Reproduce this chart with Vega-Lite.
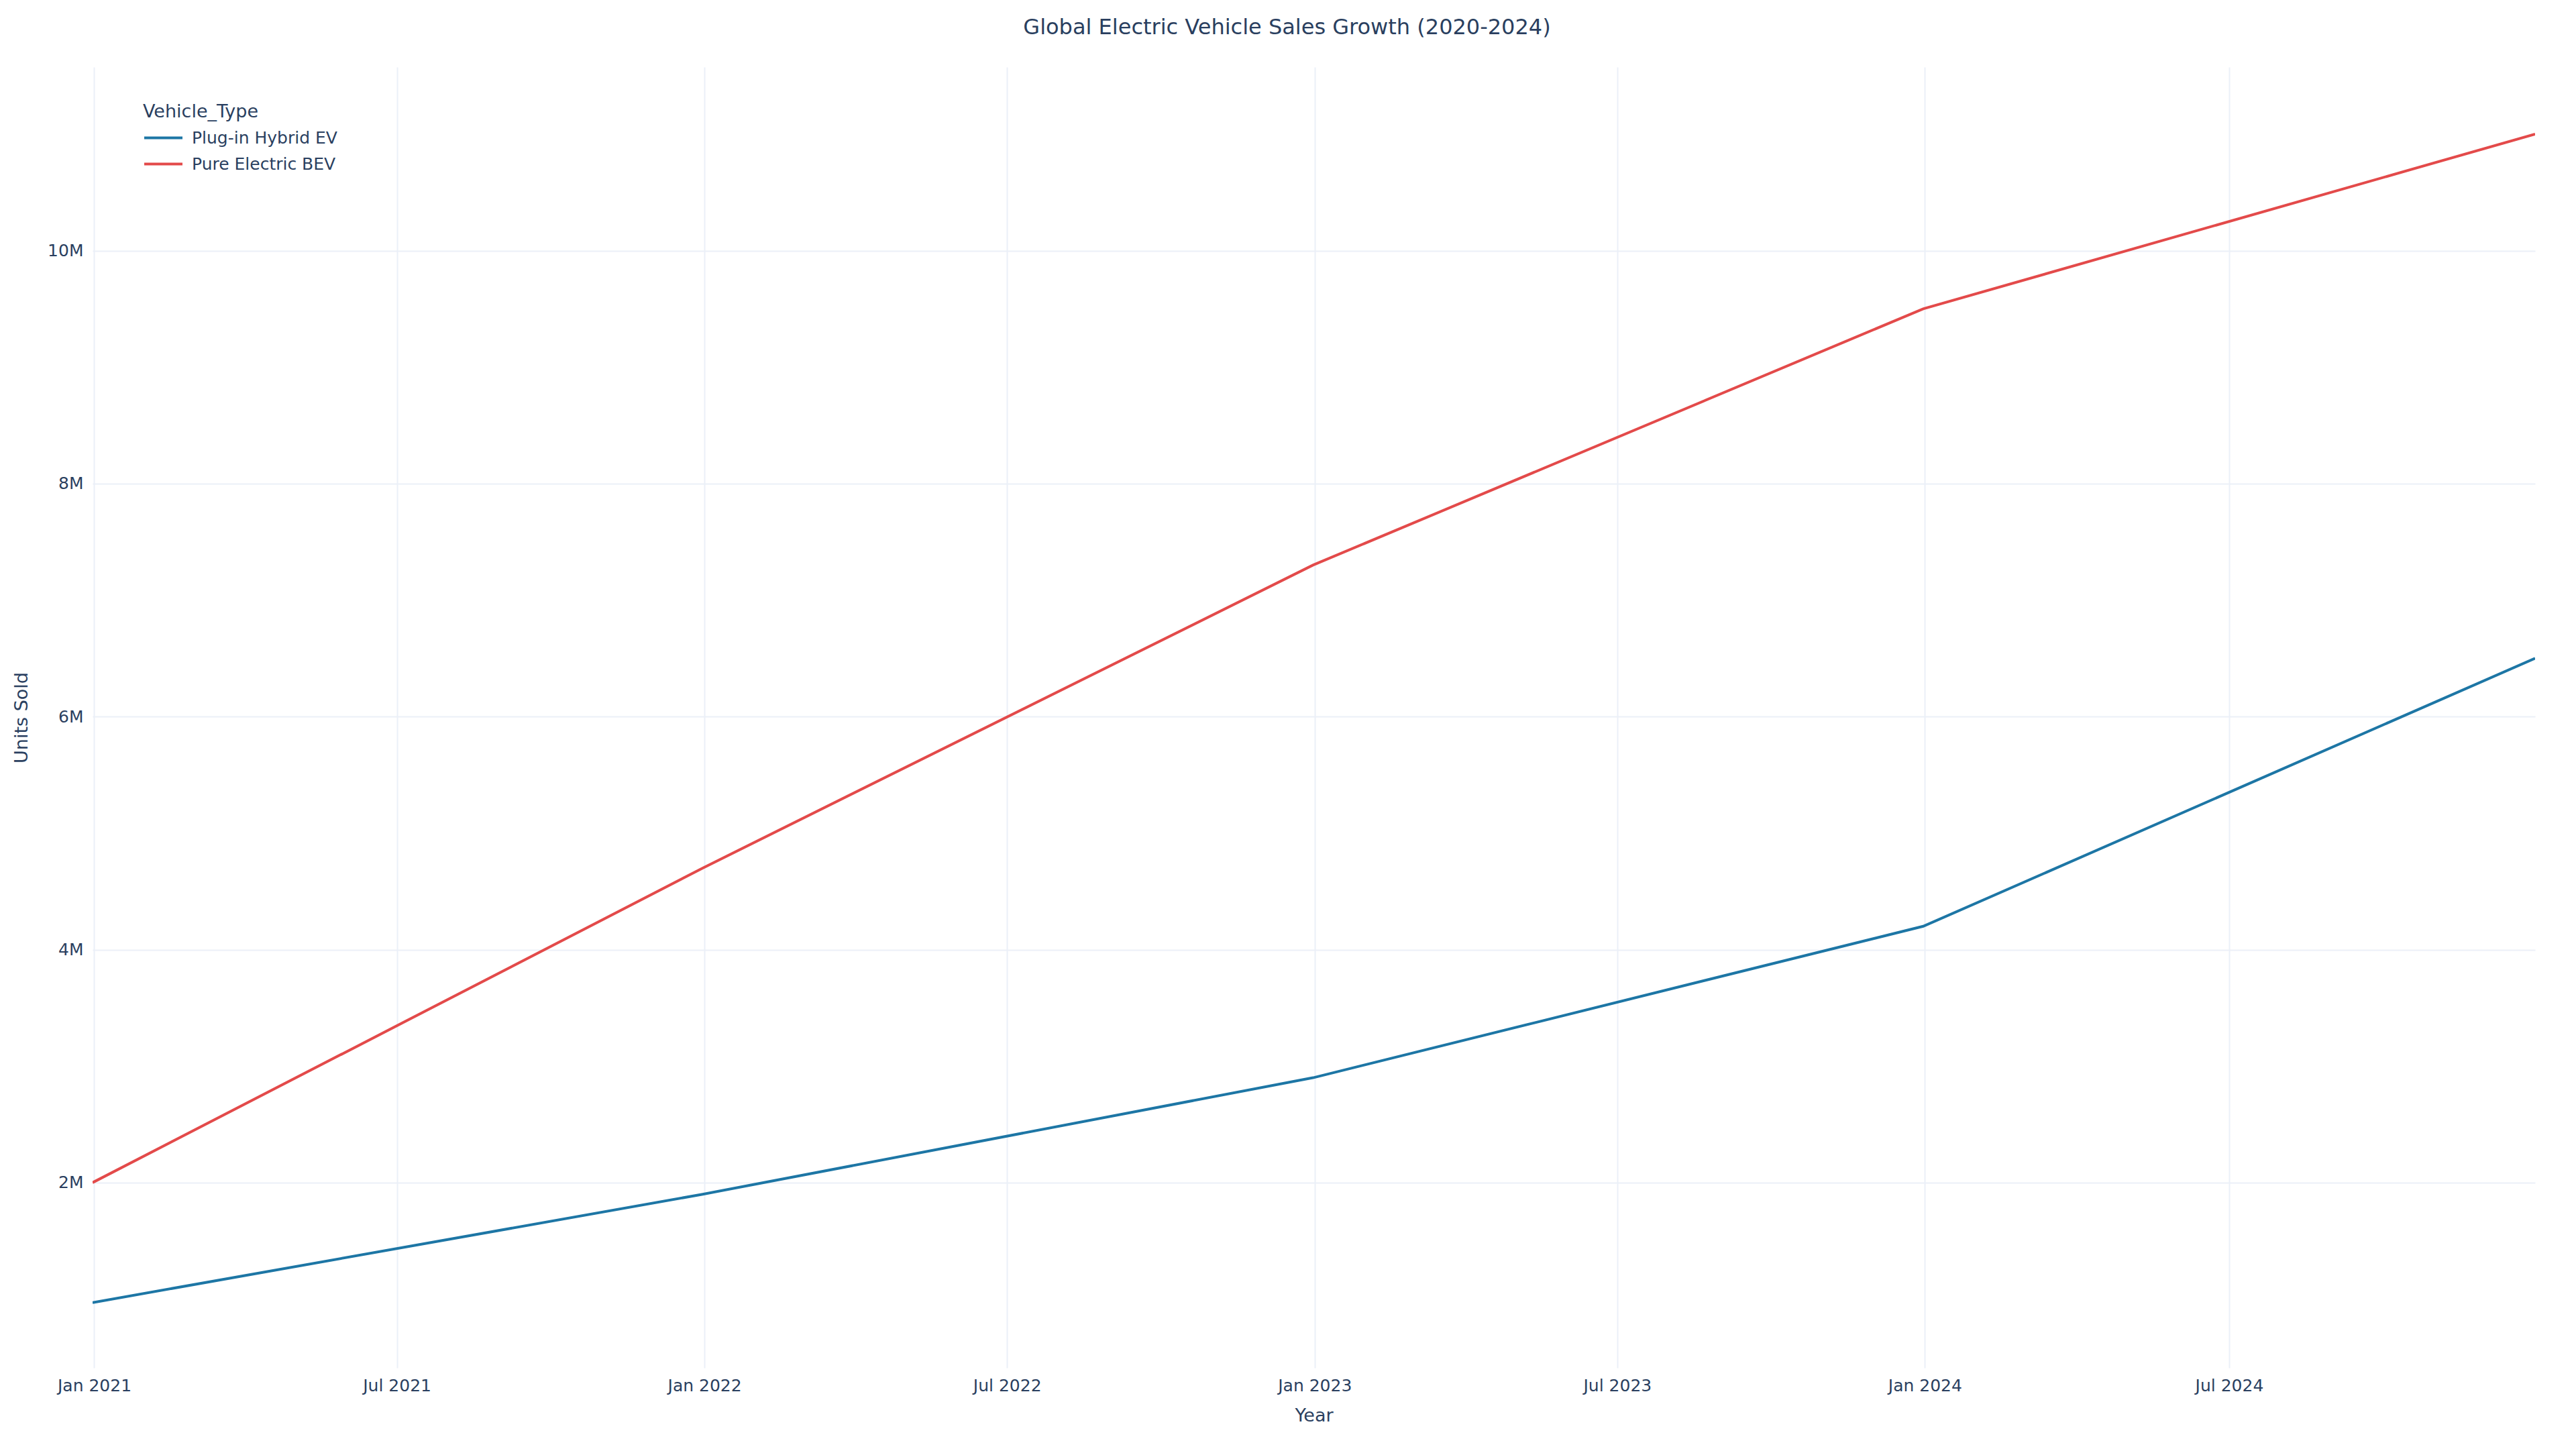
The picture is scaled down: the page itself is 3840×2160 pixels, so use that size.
{
  "$schema": "https://vega.github.io/schema/vega-lite/v6.json",
  "width": 3641,
  "height": 1939,
  "autosize": {"type": "none"},
  "padding": {"left": 138, "top": 100, "right": 61, "bottom": 121},
  "background": "white",
  "title": {
    "text": "Global Electric Vehicle Sales Growth (2020-2024)",
    "anchor": "middle",
    "frame": "group",
    "dx": -40,
    "offset": 42,
    "font": "DejaVu Sans",
    "fontSize": 32,
    "fontWeight": "normal",
    "color": "#2a3f5f"
  },
  "config": {
    "view": {"stroke": null},
    "font": "DejaVu Sans"
  },
  "data": {
    "values": [
      {"Year": "2020-12-31", "Vehicle_Type": "Plug-in Hybrid EV", "Units_Sold": 970000},
      {"Year": "2021-12-31", "Vehicle_Type": "Plug-in Hybrid EV", "Units_Sold": 1900000},
      {"Year": "2022-12-31", "Vehicle_Type": "Plug-in Hybrid EV", "Units_Sold": 2900000},
      {"Year": "2023-12-31", "Vehicle_Type": "Plug-in Hybrid EV", "Units_Sold": 4200000},
      {"Year": "2024-12-31", "Vehicle_Type": "Plug-in Hybrid EV", "Units_Sold": 6500000},
      {"Year": "2020-12-31", "Vehicle_Type": "Pure Electric BEV", "Units_Sold": 2000000},
      {"Year": "2021-12-31", "Vehicle_Type": "Pure Electric BEV", "Units_Sold": 4700000},
      {"Year": "2022-12-31", "Vehicle_Type": "Pure Electric BEV", "Units_Sold": 7300000},
      {"Year": "2023-12-31", "Vehicle_Type": "Pure Electric BEV", "Units_Sold": 9500000},
      {"Year": "2024-12-31", "Vehicle_Type": "Pure Electric BEV", "Units_Sold": 11000000}
    ]
  },
  "mark": {"type": "line", "strokeWidth": 4, "clip": true},
  "encoding": {
    "x": {
      "field": "Year",
      "type": "temporal",
      "title": "Year",
      "scale": {"type": "utc", "nice": false},
      "axis": {
        "format": "%b %Y",
        "tickCount": {"interval": "month", "step": 6},
        "domain": false,
        "ticks": false,
        "grid": true,
        "gridColor": "#EBF0F8",
        "gridWidth": 2,
        "labelFont": "DejaVu Sans",
        "labelFontSize": 25,
        "labelColor": "#2a3f5f",
        "labelPadding": 14,
        "labelFlush": false,
        "labelOverlap": false,
        "titleFont": "DejaVu Sans",
        "titleFontSize": 27,
        "titleFontWeight": "normal",
        "titleColor": "#2a3f5f",
        "titlePadding": 19
      }
    },
    "y": {
      "field": "Units_Sold",
      "type": "quantitative",
      "title": "Units Sold",
      "scale": {"domain": [410000, 11575000], "nice": false, "zero": false},
      "axis": {
        "values": [2000000, 4000000, 6000000, 8000000, 10000000],
        "labelExpr": "format(datum.value / 1000000, 'd') + 'M'",
        "domain": false,
        "ticks": false,
        "grid": true,
        "gridColor": "#EBF0F8",
        "gridWidth": 2,
        "labelFont": "DejaVu Sans",
        "labelFontSize": 25,
        "labelColor": "#2a3f5f",
        "labelPadding": 14,
        "titleFont": "DejaVu Sans",
        "titleFontSize": 27,
        "titleFontWeight": "normal",
        "titleColor": "#2a3f5f",
        "titlePadding": 24
      }
    },
    "color": {
      "field": "Vehicle_Type",
      "type": "nominal",
      "title": "Vehicle_Type",
      "scale": {
        "domain": ["Plug-in Hybrid EV", "Pure Electric BEV"],
        "range": ["#1d76a5", "#e34a4a"]
      },
      "legend": {
        "orient": "none",
        "legendX": 75,
        "legendY": 54,
        "symbolType": "stroke",
        "symbolSize": 3249,
        "symbolStrokeWidth": 4,
        "clipHeight": 37,
        "rowPadding": 2,
        "labelOffset": 12,
        "labelLimit": 0,
        "labelFont": "DejaVu Sans",
        "labelFontSize": 25,
        "labelColor": "#2a3f5f",
        "titleFont": "DejaVu Sans",
        "titleFontSize": 27,
        "titleFontWeight": "normal",
        "titleColor": "#2a3f5f",
        "titlePadding": 6
      }
    }
  }
}
